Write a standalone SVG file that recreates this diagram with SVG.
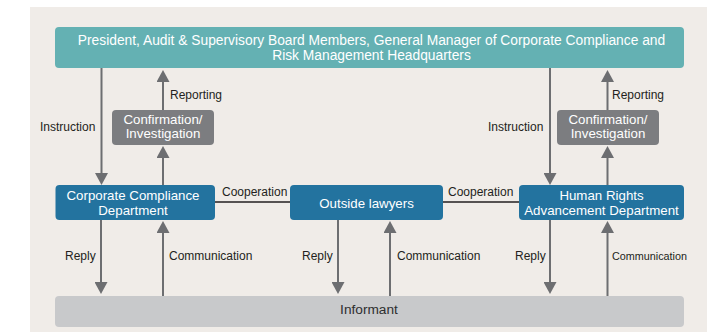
<svg xmlns="http://www.w3.org/2000/svg" width="722" height="332" viewBox="0 0 722 332">
<style>
.bg{fill:#f0ece8}
.top{fill:#64b1b3}
.dept{fill:#23739f}
.conf{fill:#7c7d80}
.inf{fill:#c8c9cb}
.wt{font-family:"Liberation Sans",Arial,sans-serif;font-size:13.3px;fill:#ffffff;text-anchor:middle}
.tt{font-family:"Liberation Sans",Arial,sans-serif;font-size:13.8px;fill:#ffffff;text-anchor:middle}
.lbl{font-family:"Liberation Sans",Arial,sans-serif;font-size:12px;fill:#231f20}
.arr{stroke:#6d6e71;stroke-width:2;fill:none;marker-end:url(#ah)}
.coop{stroke:#231f20;stroke-width:1.5;fill:none}
</style>
<defs>
<marker id="ah" markerUnits="userSpaceOnUse" markerWidth="13" markerHeight="13" refX="0" refY="6.5" orient="auto" viewBox="0 0 13 13">
<path d="M0,0 L12,6.5 L0,13 z" fill="#6d6e71"/>
</marker>
</defs>
<rect class="bg" x="30" y="7" width="677" height="330"/>
<g id="hq">
<rect class="top" x="55" y="27" width="629" height="41" rx="4"/>
<text class="tt" x="371.5" y="44.5">President, Audit &amp; Supervisory Board Members, General Manager of Corporate Compliance and</text>
<text class="tt" x="371.5" y="60">Risk Management Headquarters</text>
</g>
<g id="conf-left">
<rect class="conf" x="112" y="110" width="102" height="35" rx="4"/>
<text class="wt" x="163" y="124">Confirmation/</text>
<text class="wt" x="163" y="138">Investigation</text>
</g>
<g id="conf-right">
<rect class="conf" x="557" y="110" width="102" height="35" rx="4"/>
<text class="wt" x="608" y="124">Confirmation/</text>
<text class="wt" x="608" y="138">Investigation</text>
</g>
<g id="ccd">
<rect class="dept" x="55.5" y="185" width="159.5" height="35" rx="4"/>
<text class="wt" x="133" y="199.5">Corporate Compliance</text>
<text class="wt" x="133" y="214.5">Department</text>
</g>
<g id="lawyers">
<rect class="dept" x="290" y="185" width="153" height="35" rx="4"/>
<text class="wt" x="366.5" y="207.5">Outside lawyers</text>
</g>
<g id="hrad">
<rect class="dept" x="519" y="185" width="165" height="35" rx="4"/>
<text class="wt" x="601.5" y="199.5">Human Rights</text>
<text class="wt" x="601.5" y="214.5">Advancement Department</text>
</g>
<g id="informant">
<rect class="inf" x="55" y="296" width="629" height="31" rx="4"/>
<text x="369" y="314" font-family="'Liberation Sans',Arial,sans-serif" font-size="13.7" fill="#2e2e30" text-anchor="middle">Informant</text>
</g>
<g id="connectors">
<line class="arr" x1="101.5" y1="68" x2="101.5" y2="173"/>
<line class="arr" x1="163" y1="110" x2="163" y2="82"/>
<line class="arr" x1="163" y1="185" x2="163" y2="158"/>
<line class="arr" x1="550" y1="68" x2="550" y2="173"/>
<line class="arr" x1="607.5" y1="110" x2="607.5" y2="82"/>
<line class="arr" x1="607.5" y1="185" x2="607.5" y2="158"/>
<line class="arr" x1="101" y1="220" x2="101" y2="282"/>
<line class="arr" x1="163" y1="296" x2="163" y2="233"/>
<line class="arr" x1="338" y1="220" x2="338" y2="282"/>
<line class="arr" x1="390" y1="296" x2="390" y2="233"/>
<line class="arr" x1="550" y1="220" x2="550" y2="282"/>
<line class="arr" x1="607.5" y1="296" x2="607.5" y2="233"/>
<line class="coop" x1="215" y1="202" x2="290" y2="202"/>
<line class="coop" x1="443" y1="202" x2="519" y2="202"/>
<text class="lbl" x="40" y="131">Instruction</text>
<text class="lbl" x="170" y="99">Reporting</text>
<text class="lbl" x="488" y="131">Instruction</text>
<text class="lbl" x="612" y="99">Reporting</text>
<text class="lbl" x="222" y="196">Cooperation</text>
<text class="lbl" x="448" y="196">Cooperation</text>
<text class="lbl" x="65" y="260">Reply</text>
<text class="lbl" x="169" y="260">Communication</text>
<text class="lbl" x="302" y="260">Reply</text>
<text class="lbl" x="397" y="260">Communication</text>
<text class="lbl" x="515" y="260">Reply</text>
<text class="lbl" x="612" y="260" style="font-size:10.8px">Communication</text>
</g>
</svg>
